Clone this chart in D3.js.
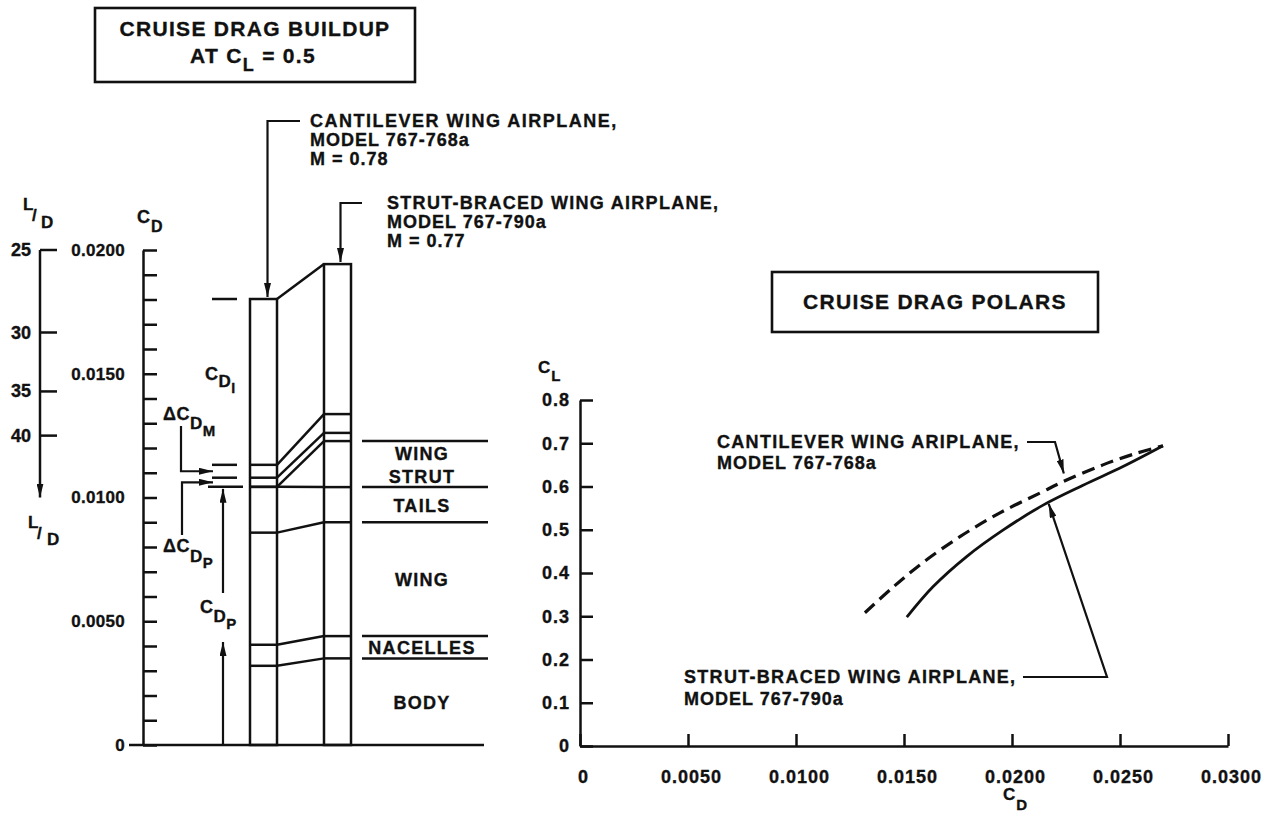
<!DOCTYPE html>
<html>
<head>
<meta charset="utf-8">
<script src="https://cdnjs.cloudflare.com/ajax/libs/d3/7.8.5/d3.min.js"></script>
<style>
  body { margin: 0; background: #fff; }
  svg { font-family: "Liberation Sans", Arial, Helvetica, sans-serif; font-weight: bold; }
  text { fill: #111; stroke: #111; stroke-width: 0.35px; }
</style>
</head>
<body>
<script>
// drag buildup at CL = 0.5, components from bottom to top
const components = ["BODY", "NACELLES", "WING", "TAILS", "STRUT", "dCDP", "dCDM", "CDI"];
const componentLabels = [["BODY"], ["NACELLES"], ["WING"], ["TAILS"], ["WING", "STRUT"], null, null, null];
const airplanes = ["767-768a", "767-790a"];
const cantileverDrag = [0.0032, 0.00085, 0.00453, 0.00185, 0, 0.00037, 0.00052, 0.0067];
const strutDrag = [0.0035, 0.0009, 0.0046, 0.00142, 0.00186, 0.00033, 0.00076, 0.00606];
const cdTicks = [0, 0.005, 0.01, 0.015, 0.02];
const ldTicks = [25, 30, 35, 40];
const ldArrowEnd = 50;
const designCL = 0.5;

// cruise drag polars
const cantileverPolarCD = [0.01319, 0.01451, 0.01582, 0.01759, 0.01944, 0.0213, 0.02253, 0.02421, 0.02577, 0.02699];
const cantileverPolarCL = [0.308, 0.368, 0.422, 0.484, 0.539, 0.585, 0.615, 0.650, 0.677, 0.694];
const strutPolarCD = [0.01513, 0.01634, 0.0179, 0.01958, 0.02144, 0.02329, 0.02514, 0.02699];
const strutPolarCL = [0.298, 0.368, 0.438, 0.499, 0.557, 0.603, 0.646, 0.694];
const polarCDTicks = [0, 0.005, 0.01, 0.015, 0.02, 0.025, 0.03];
const polarCLTicks = [0, 0.1, 0.2, 0.3, 0.4, 0.5, 0.6, 0.7, 0.8];

const ink = "#111";
const lw = 2.5;

const svg = d3.select("body").append("svg")
    .attr("width", 1270)
    .attr("height", 819);

svg.append("defs").append("marker")
    .attr("id", "arrow")
    .attr("viewBox", "0 0 14 7")
    .attr("refX", 14).attr("refY", 3.5)
    .attr("markerWidth", 14).attr("markerHeight", 7)
    .attr("markerUnits", "userSpaceOnUse")
    .attr("orient", "auto")
    .append("path")
    .attr("d", "M0,0 L14,3.5 L0,7 Z")
    .attr("fill", ink);

// text with stepped subscripts: parts = [[text, dy, size], ...]
function subText(x, y, parts, size = 18, anchor = "start", spacing = 1) {
    const t = svg.append("text")
        .attr("x", x).attr("y", y)
        .attr("font-size", size)
        .attr("letter-spacing", spacing)
        .attr("text-anchor", anchor);
    parts.forEach(function (p) {
        t.append("tspan").attr("dy", p[1] || 0).attr("font-size", p[2] || size).text(p[0]);
    });
    return t;
}

function line(points, width = lw, arrow = false) {
    const p = svg.append("path")
        .attr("d", d3.line()(points))
        .attr("fill", "none")
        .attr("stroke", ink)
        .attr("stroke-width", width);
    if (arrow) p.attr("marker-end", "url(#arrow)");
    return p;
}

function titleBox(x, y, w, h) {
    svg.append("rect")
        .attr("x", x).attr("y", y).attr("width", w).attr("height", h)
        .attr("fill", "none").attr("stroke", ink).attr("stroke-width", 2.6);
}

// ---------- left: drag buildup ----------
const cd = d3.scaleLinear().domain([0, 0.02]).range([745, 250]);
const band = d3.scaleBand().domain(airplanes).range([250, 351]).paddingInner(0.635);
const bw = band.bandwidth();
const stacks = [cantileverDrag, strutDrag].map(v => Array.from(d3.cumsum(v)));

titleBox(95, 8, 320, 74);
subText(255, 36, [["CRUISE DRAG BUILDUP"]], 21, "middle", 1.3);
subText(253, 63, [["AT C"], ["L", 8, 18], [" = 0.5", -8]], 21, "middle", 1.3);

// CD axis
const cdAxis = d3.axisLeft(cd)
    .tickValues(d3.range(0, 0.02001, 0.001))
    .tickSizeInner(-14).tickSizeOuter(0).tickPadding(18)
    .tickFormat(d => cdTicks.some(t => Math.abs(t - d) < 1e-9) ? (d === 0 ? "0" : d3.format(".4f")(d)) : "");
const cdG = svg.append("g")
    .attr("transform", "translate(143,0)")
    .call(cdAxis)
    .attr("font-size", 17).attr("font-family", null).attr("color", ink);
cdG.selectAll("path, line").attr("stroke-width", lw);
cdG.selectAll("text").attr("letter-spacing", 0.3);
subText(137, 223, [["C"], ["D", 9, 16]], 18);

// L/D scale, placed on CD = CL / (L/D)
line([[40, cd(designCL / ldTicks[0])], [40, cd(designCL / ldArrowEnd)]], lw, true);
svg.selectAll(".ld-tick").data(ldTicks).enter().append("line")
    .attr("class", "ld-tick")
    .attr("x1", 40).attr("x2", 57)
    .attr("y1", d => cd(designCL / d)).attr("y2", d => cd(designCL / d))
    .attr("stroke", ink).attr("stroke-width", lw);
svg.selectAll(".ld-label").data(ldTicks).enter().append("text")
    .attr("class", "ld-label")
    .attr("x", 31).attr("y", d => cd(designCL / d) + 6)
    .attr("text-anchor", "end").attr("font-size", 18)
    .text(d => d);
subText(23, 210, [["L"]], 17);
subText(32, 221, [["/"]], 17);
subText(41, 228, [["D"]], 17);
subText(28, 528, [["L"]], 17);
subText(37, 539, [["/"]], 17);
subText(47, 545, [["D"]], 17);

// baseline
line([[129, cd(0)], [484, cd(0)]], lw);

// bars
airplanes.forEach(function (a, i) {
    const s = stacks[i];
    svg.append("rect")
        .attr("x", band(a)).attr("y", cd(s[s.length - 1]))
        .attr("width", bw).attr("height", cd(0) - cd(s[s.length - 1]))
        .attr("fill", "none").attr("stroke", ink).attr("stroke-width", lw);
    svg.selectAll(".seg" + i).data(s.slice(0, -1)).enter().append("line")
        .attr("class", "seg" + i)
        .attr("x1", band(a)).attr("x2", band(a) + bw)
        .attr("y1", d => cd(d)).attr("y2", d => cd(d))
        .attr("stroke", ink).attr("stroke-width", lw);
});
// connectors between the two bars
svg.selectAll(".link").data(components).enter().append("line")
    .attr("class", "link")
    .attr("x1", band(airplanes[0]) + bw).attr("x2", band(airplanes[1]))
    .attr("y1", (d, k) => cd(stacks[0][k])).attr("y2", (d, k) => cd(stacks[1][k]))
    .attr("stroke", ink).attr("stroke-width", lw);

// component rules and labels on the right
const labelled = components.map((c, k) => k).filter(k => componentLabels[k]);
labelled.forEach(function (k) {
    const top = stacks[1][k], bottom = k ? stacks[1][k - 1] : 0;
    line([[362, cd(top)], [488, cd(top)]], lw);
    const lines = componentLabels[k];
    const mid = (cd(top) + cd(bottom)) / 2;
    lines.forEach(function (txt, j) {
        subText(422, mid + 7 + (j - (lines.length - 1) / 2) * 23, [[txt]], 18, "middle", 1.3);
    });
});

// level marks left of the cantilever bar
[3, 5, 6, 7].forEach(function (k) {
    line([[k === 3 ? 208 : 212, cd(stacks[0][k])], [k === 3 ? 243 : 237, cd(stacks[0][k])]], lw);
});

subText(205, 380, [["C"], ["D", 7, 17], ["I", 6, 14]], 18, "start", 0.5);
subText(163, 420, [["ΔC"], ["D", 9, 17], ["M", 7, 15]], 18, "start", 0.5);
subText(163, 552, [["ΔC"], ["D", 10, 17], ["P", 6, 15]], 18, "start", 0.5);
subText(200, 613, [["C"], ["D", 9, 17], ["P", 7, 15]], 18, "start", 0.5);

const yM = cd((stacks[0][5] + stacks[0][6]) / 2);
const yP = cd((stacks[0][4] + stacks[0][5]) / 2);
line([[181, 426], [181, yM], [213, yM]], 2.2, true);
line([[182, 535], [182, yP], [213, yP]], 2.2, true);
line([[223, 593], [223, cd(stacks[0][3]) + 2]], 2.2, true);
line([[223, cd(0)], [223, 642]], 2.2, true);

// airplane callouts
const top1 = cd(stacks[0][7]), top2 = cd(stacks[1][7]);
const cx1 = band(airplanes[0]) + bw / 2 + 4, cx2 = band(airplanes[1]) + bw / 2 + 3;
line([[300, 121], [cx1, 121], [cx1, top1 - 2]], 2.2, true);
line([[362, 203], [cx2, 203], [cx2, top2 - 2]], 2.2, true);
subText(310, 127, [["CANTILEVER WING AIRPLANE,"]], 18, "start", 1.5);
subText(310, 146, [["MODEL 767-768a"]], 18, "start", 1.0);
subText(310, 165, [["M = 0.78"]], 18, "start", 1.0);
subText(387, 209, [["STRUT-BRACED WING AIRPLANE,"]], 18, "start", 1.3);
subText(387, 228, [["MODEL 767-790a"]], 18, "start", 1.0);
subText(387, 247, [["M = 0.77"]], 18, "start", 1.0);

// ---------- right: drag polars ----------
const px = d3.scaleLinear().domain([0, 0.03]).range([580, 1228]);
const py = d3.scaleLinear().domain([0, 0.8]).range([746, 400]);

titleBox(772, 272, 326, 60);
subText(935, 309, [["CRUISE DRAG POLARS"]], 21, "middle", 1.3);

const yG = svg.append("g")
    .attr("transform", "translate(" + px(0) + ",0)")
    .call(d3.axisLeft(py).tickValues(polarCLTicks)
        .tickSizeInner(-13).tickSizeOuter(0).tickPadding(10)
        .tickFormat(d => d === 0 ? "0" : d.toFixed(1)))
    .attr("font-size", 18).attr("font-family", null).attr("color", ink);
yG.selectAll("path, line").attr("stroke-width", lw);
yG.selectAll("text").attr("letter-spacing", 1);

const xG = svg.append("g")
    .attr("transform", "translate(0," + py(0) + ")")
    .call(d3.axisBottom(px).tickValues(polarCDTicks)
        .tickSizeInner(-12).tickSizeOuter(0).tickPadding(24)
        .tickFormat(d => d === 0 ? "0" : d.toFixed(4)))
    .attr("font-size", 18).attr("font-family", null).attr("color", ink);
xG.selectAll("path, line").attr("stroke-width", lw);
xG.selectAll("text").attr("letter-spacing", 1).attr("dx", 3);

subText(538, 373, [["C"], ["L", 8, 15]], 17);
subText(1003, 800, [["C"], ["D", 10, 15]], 17);

const polar = d3.line().x(d => px(d[0])).y(d => py(d[1])).curve(d3.curveCatmullRom);
svg.append("path")
    .datum(d3.zip(cantileverPolarCD, cantileverPolarCL))
    .attr("d", polar)
    .attr("fill", "none").attr("stroke", ink)
    .attr("stroke-width", 3.2).attr("stroke-dasharray", "13,7");
svg.append("path")
    .datum(d3.zip(strutPolarCD, strutPolarCL))
    .attr("d", polar)
    .attr("fill", "none").attr("stroke", ink)
    .attr("stroke-width", 2.8);

subText(717, 448, [["CANTILEVER WING ARIPLANE,"]], 18, "start", 1.3);
subText(717, 469, [["MODEL 767-768a"]], 18, "start", 1.0);
line([[1027, 442], [1055, 442], [px(0.0224), py(0.63)]], 2.2, true);

subText(684, 683, [["STRUT-BRACED WING AIRPLANE,"]], 18, "start", 1.3);
subText(684, 705, [["MODEL 767-790a"]], 18, "start", 1.0);
line([[1023, 677], [1107, 677], [px(0.0217), py(0.56)]], 2.2, true);
</script>
</body>
</html>
